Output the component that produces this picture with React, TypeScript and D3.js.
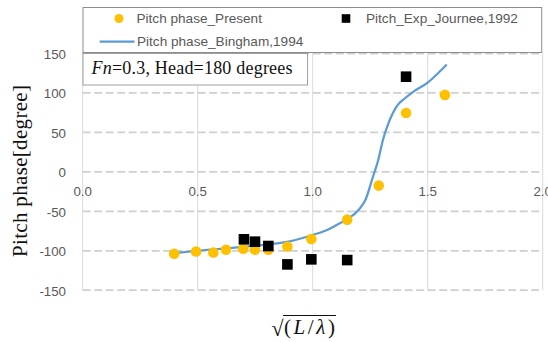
import React from "react";
import * as d3 from "d3";

const presentX = [0.398, 0.493, 0.568, 0.623, 0.698, 0.749, 0.807, 0.89, 0.994, 1.15, 1.287, 1.406, 1.575];
const presentY = [-103.8, -100.9, -102.2, -98.7, -97.5, -98.7, -98.7, -94.6, -85.2, -60.6, -17.4, 74.5, 97.5];

const journeeX = [0.701, 0.749, 0.807, 0.89, 0.994, 1.15, 1.406];
const journeeY = [-85.5, -88.5, -94, -117.3, -110.9, -111.8, 120.6];

const binghamX = [0.4, 0.5, 0.6, 0.7, 0.8, 0.9, 1.0, 1.06, 1.1, 1.15, 1.2, 1.23, 1.26, 1.285, 1.305, 1.33, 1.365, 1.4, 1.44, 1.5, 1.545, 1.583];
const binghamY = [-103, -100, -97.5, -95, -92, -88, -80, -74, -68, -60, -48, -35, -8, 15, 40, 62, 83, 93, 102, 113, 125, 136];

const xTicks = [0, 0.5, 1.0, 1.5, 2.0];
const yTicks = [-150, -100, -50, 0, 50, 100, 150];

const legendLabels = ["Pitch phase_Present", "Pitch_Exp_Journee,1992", "Pitch phase_Bingham,1994"];

const W = 548;
const H = 342;

export default function App() {
  const x = d3.scaleLinear().domain([0, 2]).range([82.7, 542.7]);
  const y = d3.scaleLinear().domain([-150, 150]).range([290.2, 53.5]);

  const line = d3
    .line<number>()
    .x((_, i) => x(binghamX[i]))
    .y((d) => y(d))
    .curve(d3.curveMonotoneX);

  const sans = "'Liberation Sans', Arial, sans-serif";
  const serif = "'Liberation Serif', 'Times New Roman', serif";
  const tickColor = "#595959";

  return (
    <svg width={W} height={H} style={{ position: "absolute", left: 0, top: 0, background: "#fff" }}>
      <rect x={0} y={0} width={W} height={H} fill="#fff" />
      {xTicks.map((t) => (
        <line key={"vx" + t} x1={x(t)} x2={x(t)} y1={y(150)} y2={y(-150)} stroke="#D9D9D9" strokeWidth={1} />
      ))}
      {yTicks.map((t) => (
        <line
          key={"hy" + t}
          x1={x(0)}
          x2={x(2)}
          y1={y(t)}
          y2={y(t)}
          stroke="#CFCFCF"
          strokeWidth={1.75}
          strokeDasharray="8 3.5"
        />
      ))}
      {yTicks.map((t) => (
        <text
          key={"yl" + t}
          x={66}
          y={y(t) + 1}
          textAnchor="end"
          dominantBaseline="central"
          fontFamily={sans}
          fontSize={13.3}
          fill={tickColor}
        >
          {t}
        </text>
      ))}
      {xTicks.map((t) => (
        <text
          key={"xl" + t}
          x={x(t)}
          y={y(0) + 24.5}
          textAnchor="middle"
          fontFamily={sans}
          fontSize={13.3}
          fill={tickColor}
        >
          {t.toFixed(1)}
        </text>
      ))}
      <path d={line(binghamY) || ""} fill="none" stroke="#5B9BD5" strokeWidth={2.25} strokeLinejoin="round" />
      {presentX.map((v, i) => (
        <circle key={"p" + i} cx={x(v)} cy={y(presentY[i])} r={5.3} fill="#FFC000" />
      ))}
      {journeeX.map((v, i) => (
        <rect key={"j" + i} x={x(v) - 5.3} y={y(journeeY[i]) - 5.3} width={10.6} height={10.6} fill="#000" />
      ))}
      <rect x={83} y={53.5} width={224.5} height={31.5} fill="#fff" stroke="#A0A0A0" strokeWidth={1} />
      <text x={91.5} y={74} fontFamily={serif} fontSize={18} fill="#111" textLength={201} lengthAdjust="spacing">
        <tspan fontStyle="italic">Fn</tspan>=0.3, Head=180 degrees
      </text>
      <rect x={83} y={7.5} width={458.7} height={45} fill="#fff" stroke="#8C8C8C" strokeWidth={1} />
      <circle cx={119} cy={18.5} r={4.5} fill="#FFC000" />
      <text x={136.5} y={18.5} dominantBaseline="central" fontFamily={sans} fontSize={13.6} fill={tickColor}>
        {legendLabels[0]}
      </text>
      <rect x={346 - 4.3} y={18.5 - 4.3} width={8.6} height={8.6} fill="#000" />
      <text x={366} y={18.5} dominantBaseline="central" fontFamily={sans} fontSize={13.6} fill={tickColor}>
        {legendLabels[1]}
      </text>
      <line x1={99.7} x2={134.6} y1={41.7} y2={41.7} stroke="#5B9BD5" strokeWidth={2.25} />
      <text x={137} y={41.7} dominantBaseline="central" fontFamily={sans} fontSize={13.6} fill={tickColor}>
        {legendLabels[2]}
      </text>
      <text
        transform={`translate(27, ${171}) rotate(-90)`}
        textAnchor="middle"
        fontFamily={serif}
        fontSize={21}
        fill="#111"
        textLength={172}
        lengthAdjust="spacing"
      >
        Pitch phase[degree]
      </text>
      <text x={271.5} y={336} fontFamily={serif} fontSize={22} fill="#111">
        √
      </text>
      <line x1={283} x2={336} y1={315.5} y2={315.5} stroke="#111" strokeWidth={1} />
      <text x={284} y={334} fontFamily={serif} fontSize={21} fill="#111" textLength={51} lengthAdjust="spacing">
        (<tspan fontStyle="italic">L</tspan>/<tspan fontStyle="italic">λ</tspan>)
      </text>
    </svg>
  );
}
